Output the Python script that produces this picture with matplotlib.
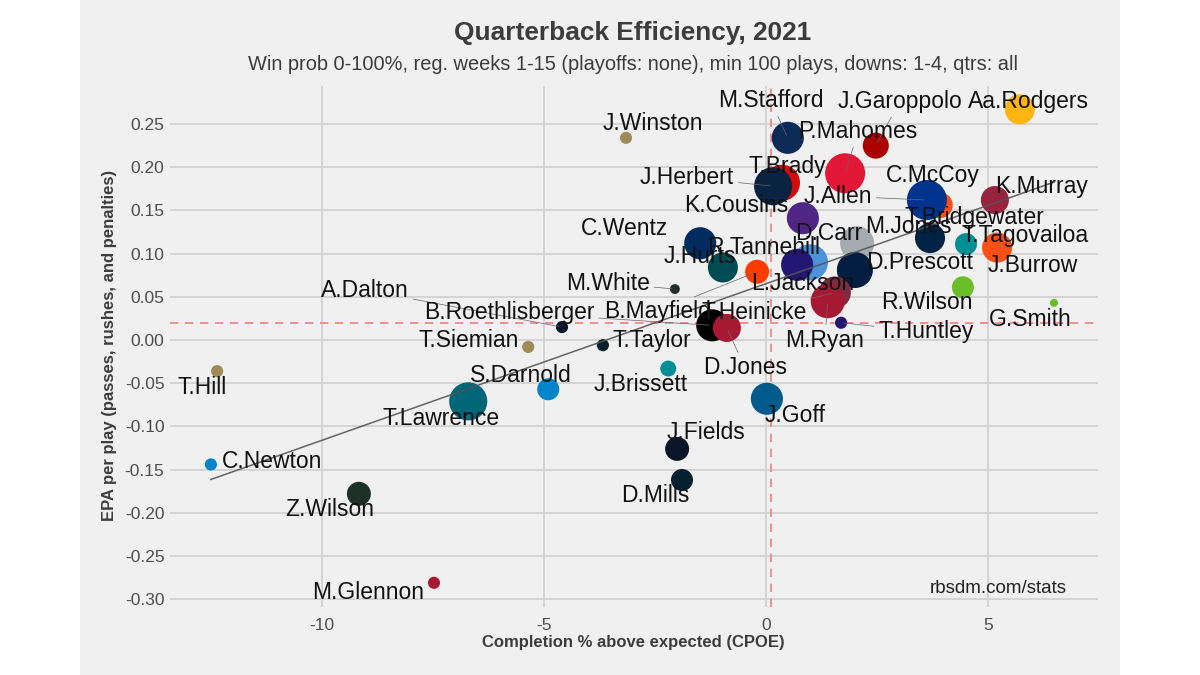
import numpy as np
import matplotlib
matplotlib.use("Agg")
import matplotlib.pyplot as plt
from matplotlib.patches import Rectangle

plt.rcParams['font.family'] = ['Liberation Sans', 'DejaVu Sans']
plt.rcParams['axes.unicode_minus'] = False

# QB data: name, team, CPOE, EPA/play, plays
names = ["Aa.Rodgers", "J.Garoppolo", "M.Stafford", "J.Winston", "P.Mahomes",
         "T.Brady", "J.Herbert", "C.McCoy", "T.Bridgewater", "J.Allen",
         "K.Murray", "K.Cousins", "C.Wentz", "D.Carr", "M.Jones",
         "T.Tagovailoa", "J.Burrow", "R.Tannehill", "L.Jackson", "J.Hurts",
         "D.Prescott", "B.Mayfield", "M.White", "R.Wilson", "G.Smith",
         "T.Heinicke", "M.Ryan", "T.Huntley", "A.Dalton", "B.Roethlisberger",
         "D.Jones", "T.Siemian", "T.Taylor", "J.Brissett", "T.Hill",
         "S.Darnold", "T.Lawrence", "J.Goff", "J.Fields", "D.Mills",
         "C.Newton", "Z.Wilson", "M.Glennon"]
teams = ["GB", "SF", "LA", "NO", "KC",
         "TB", "LAC", "ARI", "DEN", "BUF",
         "ARI", "MIN", "IND", "LV", "NE",
         "MIA", "CIN", "TEN", "BAL", "PHI",
         "DAL", "CLE", "NYJ", "SEA", "SEA",
         "WAS", "ATL", "BAL", "CHI", "PIT",
         "NYG", "NO", "HOU", "MIA", "NO",
         "CAR", "JAX", "DET", "CHI", "HOU",
         "CAR", "NYJ", "NYG"]
cpoe = [5.71, 2.47, 0.49, -3.15, 1.78,
        0.36, 0.16, 3.58, 3.91, 3.62,
        5.15, 0.83, -1.48, 2.05, 3.69,
        4.50, 5.20, 0.99, 0.70, -0.97,
        2.00, -0.20, -2.05, 4.43, 6.48,
        1.55, 1.39, 1.69, -4.59, -1.21,
        -0.88, -5.35, -3.67, -2.20, -12.35,
        -4.90, -6.70, 0.02, -2.00, -1.89,
        -12.49, -9.16, -7.47]
epa = [0.267, 0.225, 0.234, 0.234, 0.193,
       0.182, 0.178, 0.168, 0.156, 0.162,
       0.162, 0.141, 0.112, 0.112, 0.118,
       0.111, 0.107, 0.090, 0.087, 0.084,
       0.081, 0.079, 0.059, 0.061, 0.043,
       0.055, 0.045, 0.020, 0.015, 0.017,
       0.014, -0.008, -0.006, -0.033, -0.036,
       -0.057, -0.071, -0.068, -0.126, -0.162,
       -0.144, -0.178, -0.281]
plays = [385, 290, 440, 110, 700,
         560, 630, 110, 290, 700,
         335, 440, 440, 500, 385,
         215, 385, 560, 440, 385,
         560, 250, 102, 215, 100,
         440, 500, 110, 110, 440,
         335, 110, 110, 137, 110,
         215, 630, 440, 250, 215,
         110, 250, 110]

team_colors = {
    "GB": "#FFB612", "SF": "#AA0000", "LA": "#0B2A55", "NO": "#A08A58",
    "KC": "#E31837", "TB": "#D50A0A", "LAC": "#0A2342", "ARI": "#97233F",
    "DEN": "#FB4F14", "BUF": "#00338D", "MIN": "#4F2683", "IND": "#002C5F",
    "LV": "#A5ACAF", "NE": "#002244", "MIA": "#008E97", "CIN": "#FB4F14",
    "TEN": "#4B92DB", "BAL": "#241773", "PHI": "#004C54", "DAL": "#041E42",
    "CLE": "#FF3C00", "NYJ": "#1E3028", "SEA": "#69BE28", "WAS": "#7B2C40",
    "ATL": "#A71930", "CHI": "#0B162A", "PIT": "#000000", "NYG": "#A71930",
    "HOU": "#03202F", "CAR": "#0085CA", "JAX": "#006778", "DET": "#005A8C",
}

avg_cpoe = 0.11
avg_epa = 0.0196

# label placement (pixels from the point) and which labels get a leader line
label_offsets = {
    "Aa.Rodgers": (9, 8), "J.Garoppolo": (24, 44), "M.Stafford": (-17, 37),
    "J.Winston": (27, 14), "P.Mahomes": (13, 42), "T.Brady": (5, 16),
    "J.Herbert": (-86, 9), "C.McCoy": (8, 19), "K.Murray": (47, 14),
    "J.Allen": (-89, 4), "K.Cousins": (-67, 13), "T.Bridgewater": (35, -12),
    "C.Wentz": (-76, 15), "M.Jones": (-22, 12), "D.Carr": (-28, 10),
    "T.Tagovailoa": (59, 9), "J.Burrow": (36, -18), "R.Tannehill": (-46, 15),
    "L.Jackson": (6, -19), "J.Hurts": (-23, 11), "D.Prescott": (65, 8),
    "B.Mayfield": (-100, -40), "M.White": (-67, 6), "R.Wilson": (-36, -15),
    "G.Smith": (-24, -17), "T.Heinicke": (-81, -20), "M.Ryan": (-3, -39),
    "T.Huntley": (85, -9), "A.Dalton": (-197, 37), "B.Roethlisberger": (-203, 13),
    "D.Jones": (18, -40), "T.Siemian": (-60, 6), "T.Taylor": (49, 5),
    "J.Brissett": (-28, -16), "T.Hill": (-15, -16), "S.Darnold": (-27, 14),
    "T.Lawrence": (-27, -17), "J.Goff": (28, -17), "J.Fields": (29, 16),
    "D.Mills": (-27, -16), "C.Newton": (61, 3), "Z.Wilson": (-29, -16),
    "M.Glennon": (-66, -10),
}
segments = {"M.Stafford", "J.Garoppolo", "P.Mahomes", "J.Herbert", "J.Allen",
            "M.White", "A.Dalton", "B.Roethlisberger", "B.Mayfield",
            "T.Heinicke", "M.Ryan", "T.Huntley", "D.Jones"}

W, H = 1200, 675
fig = plt.figure(figsize=(12, 6.75), dpi=100, facecolor="white")
fig.patches.append(Rectangle((80 / W, 0), 1040 / W, 1, transform=fig.transFigure,
                             facecolor="#F0F0F0", edgecolor="none", zorder=-5))

ax = fig.add_axes([170 / W, 1 - 607 / H, 928 / W, 521 / H])
ax.set_facecolor("#F0F0F0")
for s in ax.spines.values():
    s.set_visible(False)

ax.set_xlim(-13.41, 7.47)
ax.set_ylim(-0.309, 0.294)
ax.set_xticks([-10, -5, 0, 5])
yt = np.arange(-0.30, 0.26, 0.05)
ax.set_yticks(yt)
ax.set_yticklabels([f"{v:.2f}".replace("-0.00", "0.00") for v in yt])
ax.grid(True, color="#D2D2D2", lw=1.3)
ax.set_axisbelow(True)
ax.tick_params(length=0, labelsize=12.5, labelcolor="#4D4D4D")
ax.tick_params(axis="x", pad=8)
ax.tick_params(axis="y", pad=4)

ax.axhline(avg_epa, color="#F08080", lw=1.2, ls=(0, (5, 4)), zorder=1)
ax.axvline(avg_cpoe, color="#F08080", lw=1.2, ls=(0, (5, 4)), zorder=1)

# point size: area scale like ggplot scale_size
p = np.array(plays, dtype=float)
r_px = 4 + 16 * np.sqrt((p - p.min()) / (p.max() - p.min()))
sizes = (2 * r_px * 0.72) ** 2
cols = [team_colors[t] for t in teams]
ax.scatter(cpoe, epa, s=sizes, c=cols, linewidths=0, zorder=3)

# linear fit
k, b = np.polyfit(cpoe, epa, 1)
xs = np.array([min(cpoe), max(cpoe)])
ax.plot(xs, k * xs + b, color="#555555", lw=1.1, alpha=0.9, zorder=4)

for n, x, y in zip(names, cpoe, epa):
    dx, dy = label_offsets[n]
    arrow = None
    if n in segments:
        arrow = dict(arrowstyle="-", color="#666666", lw=0.5, shrinkA=1, shrinkB=2)
    ax.annotate(n, xy=(x, y), xytext=(dx, dy), textcoords="offset pixels",
                ha="center", va="center", fontsize=16.5, color="#111111",
                arrowprops=arrow, zorder=5)

ax.text(0.893, 0.036, "rbsdm.com/stats", transform=ax.transAxes, ha="center",
        va="center", fontsize=13.5, color="#222222")

fig.text(633 / W, 1 - 33 / H, "Quarterback Efficiency, 2021", ha="center", va="center",
         fontsize=18.9, fontweight="bold", color="#3C3C3C")
fig.text(633 / W, 1 - 65 / H,
         "Win prob 0-100%, reg. weeks 1-15 (playoffs: none), min 100 plays, downs: 1-4, qtrs: all",
         ha="center", va="center", fontsize=14.4, color="#3C3C3C")
fig.text(633 / W, 1 - 642 / H, "Completion % above expected (CPOE)", ha="center",
         va="center", fontsize=12, fontweight="bold", color="#3C3C3C")
fig.text(110 / W, 1 - 345 / H, "EPA per play (passes, rushes, and penalties)", ha="center",
         va="center", rotation=90, fontsize=12, fontweight="bold", color="#3C3C3C")

fig.savefig("out.png", dpi=100, facecolor="white")
